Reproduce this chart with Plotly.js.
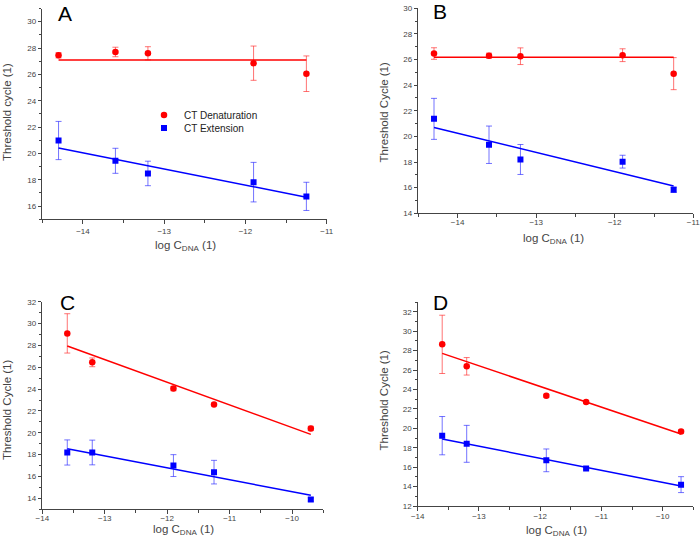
<!DOCTYPE html>
<html>
<head>
<meta charset="utf-8">
<script src="https://cdn.plot.ly/plotly-3.0.1.min.js"></script>
<style>html,body{margin:0;padding:0;background:#fff;}#chart{width:700px;height:540px;}</style>
</head>
<body>
<div id="chart"></div>
<script>
// ---- data ----
var xAB = [-14.3, -13.6, -13.2, -11.9, -11.25];
var xCD = [-13.6, -13.2, -11.9, -11.25, -9.7];
var fitX_AB = [-14.3, -11.25];
var fitX_CD = [-13.6, -9.7];

var A_den = [27.45, 27.7, 27.6, 26.85, 26.05];
var A_den_err = [0.2, 0.36, 0.5, 1.3, 1.35];
var A_ext = [20.98, 19.44, 18.48, 17.82, 16.74];
var A_ext_err = [1.45, 0.95, 0.93, 1.5, 1.07];
var A_den_fit = [27.1, 27.1];
var A_ext_fit = [20.42, 16.68];

var B_den = [26.47, 26.3, 26.26, 26.34, 24.9];
var B_den_err = [0.45, 0.2, 0.65, 0.5, 1.25];
var B_ext = [21.37, 19.35, 18.2, 18.03, 15.84];
var B_ext_err = [1.6, 1.46, 1.17, 0.5, 0.2];
var B_den_fit = [26.18, 26.18];
var B_ext_fit = [20.7, 16.13];

var C_den = [29.1, 26.45, 24.05, 22.6, 20.4];
var C_den_err = [1.8, 0.4, 0.2, 0.1, 0.2];
var C_ext = [18.2, 18.2, 17.0, 16.4, 13.9];
var C_ext_err = [1.15, 1.13, 1.0, 1.08, 0.15];
var C_den_fit = [27.94, 19.86];
var C_ext_fit = [18.55, 14.28];

var D_den = [28.64, 26.38, 23.35, 22.7, 19.66];
var D_den_err = [3.0, 0.9, 0.15, 0.1, 0.15];
var D_ext = [19.24, 18.4, 16.7, 15.85, 14.2];
var D_ext_err = [1.97, 1.9, 1.17, 0.1, 0.82];
var D_den_fit = [27.71, 19.41];
var D_ext_fit = [18.9, 14.06];

var seriesNames = ['CT Denaturation', 'CT Extension'];
var panelLabels = ['A', 'B', 'C', 'D'];
var yTitles = ['Threshold cycle (1)', 'Threshold Cycle (1)', 'Threshold Cycle (1)', 'Threshold Cycle (1)'];
var xTitle = 'log C<sub>DNA</sub> (1)';

// ---- styling ----
var RED = '#ff0000', BLUE = '#0000ff';
var RED_ERR = 'rgba(255,40,40,0.65)', BLUE_ERR = 'rgba(40,40,255,0.65)';
var W = 700, H = 540;
var FONT = 'Arial, Liberation Sans, sans-serif';

var panels = [
  {x: xAB, fx: fitX_AB, den: A_den, de: A_den_err, ext: A_ext, ee: A_ext_err, df: A_den_fit, ef: A_ext_fit},
  {x: xAB, fx: fitX_AB, den: B_den, de: B_den_err, ext: B_ext, ee: B_ext_err, df: B_den_fit, ef: B_ext_fit},
  {x: xCD, fx: fitX_CD, den: C_den, de: C_den_err, ext: C_ext, ee: C_ext_err, df: C_den_fit, ef: C_ext_fit},
  {x: xCD, fx: fitX_CD, den: D_den, de: D_den_err, ext: D_ext, ee: D_ext_err, df: D_den_fit, ef: D_ext_fit}
];

// pixel boxes of each plot area: [left, right, top, bottom]
var boxes = [
  [42.3, 326.7, 8.5, 219.3],
  [418.3, 693.3, 8.3, 213.3],
  [42.3, 323.3, 301.7, 509.3],
  [417.7, 693.3, 302.0, 506.0]
];
var xRanges = [[-14.5, -11], [-14.5, -11], [-14, -9.5], [-14, -9.5]];
var yRanges = [[15, 31], [14, 30], [13, 32], [12, 33]];
var xLabelShift = [0, -3, -3, -2];

var traces = [];
var layout = {
  width: W, height: H,
  margin: {l: 0, r: 0, t: 0, b: 0},
  paper_bgcolor: '#fff', plot_bgcolor: '#fff',
  font: {family: FONT, color: '#333'},
  showlegend: true,
  annotations: []
};

panels.forEach(function (p, i) {
  var sfx = i === 0 ? '' : String(i + 1);
  var xa = 'x' + sfx, ya = 'y' + sfx;
  traces.push({
    x: p.x, y: p.den, xaxis: xa, yaxis: ya, type: 'scatter', mode: 'markers',
    name: seriesNames[0], legend: 'legend', showlegend: i === 0,
    marker: {symbol: 'circle', size: 6.5, color: RED},
    error_y: {type: 'data', array: p.de, visible: true, color: RED_ERR, thickness: 1, width: 3}
  });
  traces.push({
    x: p.fx, y: p.df, xaxis: xa, yaxis: ya, type: 'scatter', mode: 'lines',
    showlegend: false, line: {color: RED, width: 1.5}, hoverinfo: 'skip'
  });
  traces.push({
    x: p.x, y: p.ext, xaxis: xa, yaxis: ya, type: 'scatter', mode: 'markers',
    name: seriesNames[1], legend: 'legend2', showlegend: i === 0,
    marker: {symbol: 'square', size: 6, color: BLUE},
    error_y: {type: 'data', array: p.ee, visible: true, color: BLUE_ERR, thickness: 1, width: 3}
  });
  traces.push({
    x: p.fx, y: p.ef, xaxis: xa, yaxis: ya, type: 'scatter', mode: 'lines',
    showlegend: false, line: {color: BLUE, width: 1.5}, hoverinfo: 'skip'
  });

  var b = boxes[i];
  var tickfont = {size: 8, color: '#444', family: FONT};
  layout['xaxis' + sfx] = {
    domain: [b[0] / W, b[1] / W], range: xRanges[i], anchor: ya,
    showline: true, linecolor: '#444', linewidth: 1, mirror: false,
    ticks: 'outside', ticklen: 4, tickwidth: 1, tickcolor: '#444',
    tick0: 0, dtick: 1, ticklabeloverflow: 'allow', ticklabelstandoff: xLabelShift[i],
    minor: {ticks: 'outside', ticklen: 2.5, tickwidth: 1, tickcolor: '#444', dtick: 0.5, tick0: 0, showgrid: false},
    showgrid: false, zeroline: false, automargin: false, tickfont: tickfont
  };
  layout['yaxis' + sfx] = {
    domain: [1 - b[3] / H, 1 - b[2] / H], range: yRanges[i], anchor: xa,
    showline: true, linecolor: '#444', linewidth: 1, mirror: false,
    ticks: 'outside', ticklen: 3.5, tickwidth: 1, tickcolor: '#444',
    tick0: 0, dtick: 2, ticklabeloverflow: 'allow',
    minor: {ticks: 'outside', ticklen: 2, tickwidth: 1, tickcolor: '#444', dtick: 1, tick0: 0, showgrid: false},
    showgrid: false, zeroline: false, automargin: false, tickfont: tickfont
  };
});

// panel letters, axis titles
var letterPos = [[65, 14], [440, 11], [67, 302], [440, 302]];
var yTitlePos = [[7, 112], [383.5, 112], [7, 410], [383.5, 400]];
var xTitlePos = [[185, 246], [553, 239], [183, 530], [556, 531]];
for (var i = 0; i < 4; i++) {
  layout.annotations.push({
    text: panelLabels[i], xref: 'paper', yref: 'paper',
    x: letterPos[i][0] / W, y: 1 - letterPos[i][1] / H, xanchor: 'center', yanchor: 'middle',
    showarrow: false, font: {size: 21, color: '#000', family: FONT}
  });
  layout.annotations.push({
    text: yTitles[i], xref: 'paper', yref: 'paper', textangle: -90,
    x: yTitlePos[i][0] / W, y: 1 - yTitlePos[i][1] / H, xanchor: 'center', yanchor: 'middle',
    showarrow: false, font: {size: 11.5, color: '#444', family: FONT}
  });
  layout.annotations.push({
    text: xTitle, xref: 'paper', yref: 'paper',
    x: xTitlePos[i][0] / W, y: 1 - xTitlePos[i][1] / H, xanchor: 'center', yanchor: 'middle',
    showarrow: false, font: {size: 11.5, color: '#444', family: FONT}
  });
}

var legFont = {size: 10, color: '#222', family: FONT};
layout.legend = {x: 144 / W, y: 1 - 115 / H, xanchor: 'left', yanchor: 'middle', bgcolor: 'rgba(0,0,0,0)', borderwidth: 0, font: legFont, itemwidth: 30};
layout.legend2 = {x: 144 / W, y: 1 - 128 / H, xanchor: 'left', yanchor: 'middle', bgcolor: 'rgba(0,0,0,0)', borderwidth: 0, font: legFont, itemwidth: 30};

Plotly.newPlot('chart', traces, layout, {displayModeBar: false, staticPlot: true});
</script>
</body>
</html>
